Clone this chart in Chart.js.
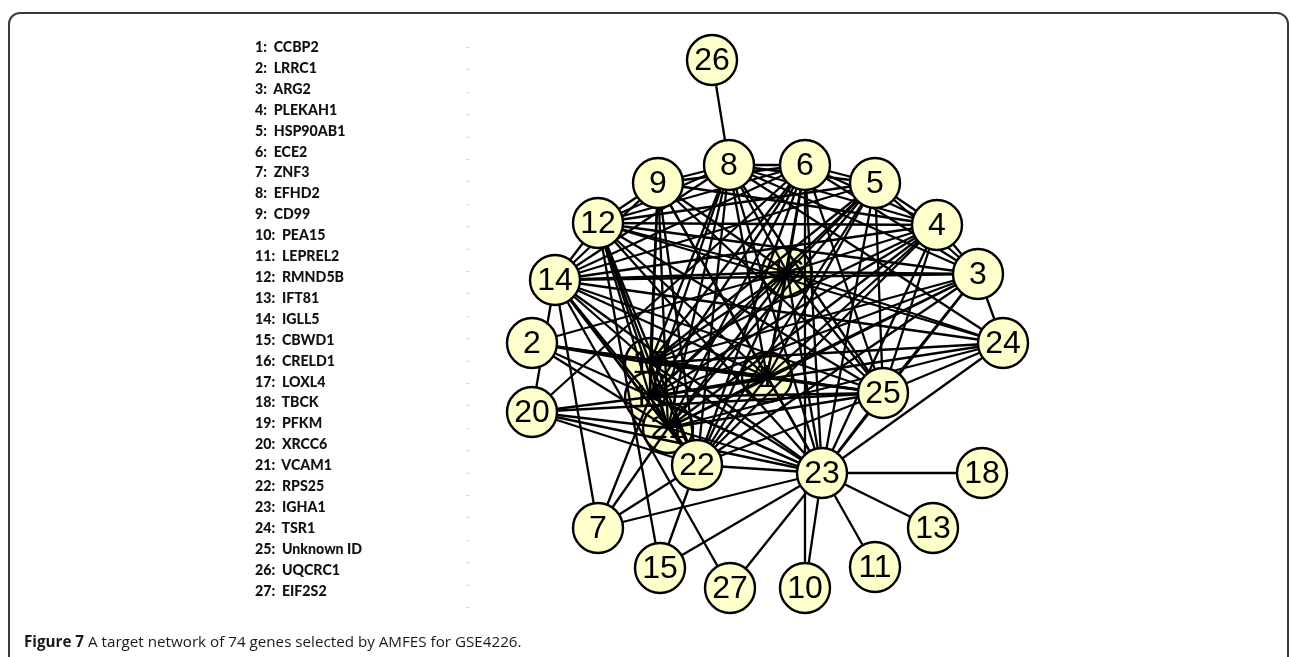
<!DOCTYPE html>
<html lang="en">
<head>
  <meta charset="UTF-8" />
  <title>Figure 7 - target network</title>
  <script src="https://cdn.jsdelivr.net/npm/chart.js"></script>
  <style>
    html, body {
      margin: 0;
      padding: 0;
      width: 1290px;
      height: 657px;
      overflow: hidden;
      background: #fff;
    }
    .frame {
      position: absolute;
      left: 8px;
      top: 12px;
      width: 1281px;
      height: 700px;
      border: 2px solid #3a3a3a;
      border-radius: 12px;
      box-sizing: border-box;
    }
    #net {
      position: absolute;
      left: 0;
      top: 0;
    }
    .genes {
      position: absolute;
      left: 255px;
      top: 37px;
      font-family: Lato, "Open Sans", sans-serif;
      font-weight: 900;
      font-size: 14.2px;
      line-height: 20.9px;
      color: #111;
      white-space: pre;
    }
    .ticks {
      position: absolute;
      left: 466px;
      top: 47px;
      width: 3px;
      height: 565px;
      background: repeating-linear-gradient(to bottom, #d0d0d0 0 1px, transparent 1px 22.4px);
    }
    .caption {
      position: absolute;
      left: 24px;
      top: 631px;
      font-family: "Open Sans", sans-serif;
      font-size: 15.2px;
      color: #1a1a1a;
      white-space: nowrap;
    }
    .caption b { font-weight: bold; }
  </style>
</head>
<body>
  <div class="frame"></div>
  <canvas id="net" width="1290" height="657"></canvas>
  <div class="genes" id="genes"></div>
  <div class="ticks"></div>
  <div class="caption"><b>Figure 7</b> A target network of 74 genes selected by AMFES for GSE4226.</div>

  <script>
    // node ids, gene names and layout position (figure units)
    const nodeIds = [1, 2, 3, 4, 5, 6, 7, 8, 9, 10, 11, 12, 13, 14, 15, 16, 17, 18, 19, 20, 21, 22, 23, 24, 25, 26, 27];
    const geneNames = ['CCBP2', 'LRRC1', 'ARG2', 'PLEKAH1', 'HSP90AB1', 'ECE2', 'ZNF3', 'EFHD2', 'CD99', 'PEA15',
      'LEPREL2', 'RMND5B', 'IFT81', 'IGLL5', 'CBWD1', 'CRELD1', 'LOXL4', 'TBCK', 'PFKM', 'XRCC6',
      'VCAM1', 'RPS25', 'IGHA1', 'TSR1', 'Unknown ID', 'UQCRC1', 'EIF2S2'];
    const nodeX = [767, 532, 978, 937, 875, 805, 598, 729, 658, 805, 875, 598, 933, 555, 660, 787, 650, 982, 650, 532, 668, 697, 822, 1003, 883, 712, 730];
    const nodeY = [377, 343, 274, 225, 183, 165, 528, 165, 183, 588, 567, 223, 528, 280, 568, 272, 363, 473, 397, 412, 428, 465, 473, 343, 393, 60, 588];
    // nodes in the dense middle, drawn under the edges
    const innerNodes = [1, 16, 17, 19, 21];

    // edges as [from, to]
    const edges = [
      [26, 8], [18, 23], [13, 23], [11, 23], [10, 23], [10, 6], [27, 23], [27, 14],
      [15, 23], [15, 22], [15, 12], [7, 23], [7, 22], [7, 21], [7, 19], [7, 14],
      [20, 21], [20, 22], [20, 23], [20, 19], [20, 6], [20, 25], [20, 14],
      [2, 17], [2, 1], [2, 25], [2, 16], [2, 23], [2, 21],
      [14, 3], [14, 16], [14, 12], [14, 9], [14, 8], [14, 1], [14, 17], [14, 19], [14, 21], [14, 22], [14, 23], [14, 25], [14, 24],
      [12, 9], [12, 8], [12, 6], [12, 16], [12, 3], [12, 4], [12, 24], [12, 17], [12, 19], [12, 21], [12, 22], [12, 23], [12, 1], [12, 25],
      [9, 8], [9, 6], [9, 16], [9, 1], [9, 17], [9, 21], [9, 22], [9, 23], [9, 4], [9, 25], [9, 19],
      [8, 6], [8, 5], [8, 4], [8, 3], [8, 16], [8, 1], [8, 17], [8, 19], [8, 21], [8, 22], [8, 23], [8, 25], [8, 24],
      [6, 5], [6, 4], [6, 3], [6, 14], [6, 16], [6, 1], [6, 17], [6, 21], [6, 22], [6, 23], [6, 25], [6, 19],
      [5, 4], [5, 3], [5, 14], [5, 16], [5, 1], [5, 17], [5, 19], [5, 21], [5, 22], [5, 23], [5, 25], [5, 12],
      [4, 3], [4, 14], [4, 16], [4, 1], [4, 17], [4, 21], [4, 22], [4, 23], [4, 25], [4, 19],
      [3, 16], [3, 17], [3, 19], [3, 21], [3, 22], [3, 23], [3, 25], [3, 1], [3, 24],
      [24, 25], [24, 23], [24, 16], [24, 17], [24, 21], [24, 19],
      [25, 23], [25, 16], [25, 1], [25, 17], [25, 19], [25, 21], [25, 22],
      [16, 1], [16, 17], [16, 19], [16, 21], [16, 22], [16, 23],
      [1, 17], [1, 19], [1, 21], [1, 22], [1, 23],
      [17, 19], [17, 21], [17, 22], [17, 23],
      [19, 21], [19, 22], [19, 23],
      [21, 22], [21, 23], [22, 23]
    ];

    // gene list on the left
    document.getElementById('genes').textContent =
      nodeIds.map((id, i) => id + ':  ' + geneNames[i]).join('\n');

    const pt = id => ({ x: nodeX[id - 1], y: nodeY[id - 1], id: id });

    const edgeSets = edges.map(e => ({
      type: 'scatter',
      showLine: true,
      data: [pt(e[0]), pt(e[1])],
      borderColor: '#000',
      borderWidth: 2.3,
      pointRadius: 0,
      order: 2
    }));

    const nodeStyle = {
      type: 'scatter',
      pointRadius: 25,
      pointBackgroundColor: '#ffffcc',
      pointBorderColor: '#000',
      pointBorderWidth: 2.4,
      isNodes: true
    };

    const innerSet = Object.assign({}, nodeStyle, {
      data: nodeIds.filter(id => innerNodes.includes(id)).map(pt),
      order: 3
    });
    const outerSet = Object.assign({}, nodeStyle, {
      data: nodeIds.filter(id => !innerNodes.includes(id)).map(pt),
      order: 1
    });

    // numbers inside the circles
    const nodeLabels = {
      id: 'nodeLabels',
      afterDatasetDraw(chart, args) {
        const ds = chart.data.datasets[args.index];
        if (!ds.isNodes) return;
        const ctx = chart.ctx;
        ctx.save();
        ctx.fillStyle = '#000';
        ctx.font = '32px "Liberation Sans", Arial, sans-serif';
        ctx.textAlign = 'center';
        ctx.textBaseline = 'middle';
        args.meta.data.forEach((p, i) => {
          ctx.fillText(String(ds.data[i].id), p.x, p.y + 1);
        });
        ctx.restore();
      }
    };

    new Chart(document.getElementById('net'), {
      type: 'scatter',
      data: { datasets: [innerSet].concat(edgeSets, [outerSet]) },
      options: {
        responsive: false,
        animation: false,
        events: [],
        layout: { padding: 0, autoPadding: false },
        scales: {
          x: { type: 'linear', min: 0, max: 1290, display: false },
          y: { type: 'linear', min: 0, max: 657, reverse: true, display: false }
        },
        plugins: {
          legend: { display: false },
          tooltip: { enabled: false }
        }
      },
      plugins: [nodeLabels]
    });
  </script>
</body>
</html>
